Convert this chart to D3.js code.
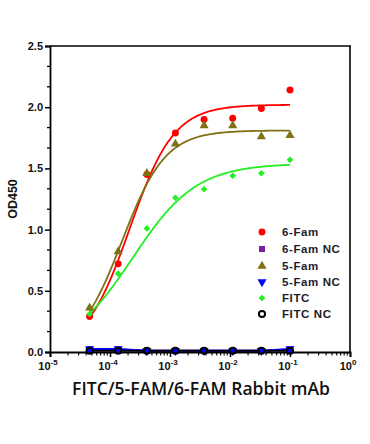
<!DOCTYPE html>
<html><head><meta charset="utf-8">
<script src="https://cdn.jsdelivr.net/npm/d3@7"></script>
<style>html,body{margin:0;padding:0;background:#fff;}svg{display:block;}</style>
</head><body>
<script>
const conc = [0.0000457, 0.000137, 0.000412, 0.00123, 0.0037, 0.0111, 0.0333, 0.1];
const seriesNames = ["6-Fam", "6-Fam NC", "5-Fam", "5-Fam NC", "FITC", "FITC NC"];
const fam6 = [0.29, 0.72, 1.45, 1.79, 1.90, 1.91, 1.99, 2.14];
const fam6NC = [0.02, 0.02, 0.01, 0.01, 0.01, 0.01, 0.01, 0.02];
const fam5 = [0.36, 0.82, 1.46, 1.70, 1.85, 1.85, 1.76, 1.77];
const fam5NC = [0.025, 0.025, 0.01, 0.01, 0.01, 0.01, 0.01, 0.025];
const fitc = [0.31, 0.64, 1.01, 1.26, 1.33, 1.44, 1.46, 1.57];
const fitcNC = [0.01, 0.01, 0.01, 0.01, 0.01, 0.01, 0.01, 0.01];
// 4PL fit parameters [bottom, top, logEC50, hill]
const fit6 = [0, 2.02, -3.67, 1.18];
const fit5 = [0, 1.81, -3.80, 1.2];
const fitF = [0, 1.54, -3.62, 0.82];
const yTicks = [0, 0.5, 1.0, 1.5, 2.0, 2.5];
const xTickExp = [-5, -4, -3, -2, -1, 0];

const W = 370, H = 444;
const svg = d3.select("body").append("svg").attr("width", W).attr("height", H);
const x = d3.scaleLog().domain([1e-5, 1]).range([50, 350]);
const y = d3.scaleLinear().domain([0, 2.5]).range([352, 46]);

const series = [
  {name: "6-Fam", data: fam6, color: "#ff0000", shape: d3.symbolCircle, size: 38, fit: fit6},
  {name: "6-Fam NC", data: fam6NC, color: "#7a1fa2", shape: d3.symbolSquare, size: 36, line: true},
  {name: "5-Fam", data: fam5, color: "#7f7215", shape: d3.symbolTriangle, size: 36, fit: fit5},
  {name: "5-Fam NC", data: fam5NC, color: "#0000ff", shape: d3.symbolTriangle, size: 36, rot: 180, line: true},
  {name: "FITC", data: fitc, color: "#22ee22", shape: d3.symbolSquare, size: 22, rot: 45, fit: fitF},
  {name: "FITC NC", data: fitcNC, color: "#000000", shape: d3.symbolCircle, size: 30, open: true, line: true}
];

const g = svg.append("g");
const fontAxis = "Liberation Sans, Arial, sans-serif";
g.append("line").attr("x1", 50).attr("x2", 351).attr("y1", 46).attr("y2", 46).attr("stroke", "#000").attr("stroke-width", 1.6);
g.append("line").attr("x1", 350).attr("x2", 350).attr("y1", 46).attr("y2", 353).attr("stroke", "#000").attr("stroke-width", 1.6);

const yAxis = d3.axisLeft(y).tickValues(yTicks).tickFormat(d3.format(".1f")).tickSize(5).tickPadding(2);
const ya = g.append("g").attr("transform", "translate(50,0)").call(yAxis);
ya.select(".domain").attr("stroke-width", 1.8);
ya.selectAll(".tick line").attr("stroke-width", 1.5);
ya.selectAll("text").attr("font-family", fontAxis).attr("font-weight", "bold").attr("font-size", 11).attr("fill", "#111");
const yMinor = d3.range(0, 2.5001, 0.5 / 3).filter(v => Math.abs(Math.round(v * 2) - v * 2) > 0.01);
g.selectAll(".ymin").data(yMinor).join("line")
  .attr("x1", 47).attr("x2", 50).attr("y1", d => y(d)).attr("y2", d => y(d)).attr("stroke", "#000").attr("stroke-width", 1.3);

const xAxis = d3.axisBottom(x).tickValues(xTickExp.map(e => Math.pow(10, e))).tickFormat("").tickSize(5);
const xa = g.append("g").attr("transform", "translate(0,352)").call(xAxis);
xa.select(".domain").attr("stroke-width", 1.8);
xa.selectAll(".tick line").attr("stroke-width", 1.5);
const xMinor = [];
for (let e = -5; e < 0; e++) for (let k = 2; k <= 9; k++) xMinor.push(k * Math.pow(10, e));
g.selectAll(".xmin").data(xMinor).join("line")
  .attr("x1", d => x(d)).attr("x2", d => x(d)).attr("y1", 352).attr("y2", 355.5).attr("stroke", "#000").attr("stroke-width", 1.1);
const xl = g.selectAll(".xlab").data(xTickExp).join("text")
  .attr("x", d => x(Math.pow(10, d)) - 2).attr("y", 370).attr("text-anchor", "middle")
  .attr("font-family", fontAxis).attr("font-weight", "bold").attr("font-size", 11).attr("fill", "#111");
xl.append("tspan").text("10");
xl.append("tspan").attr("dy", -5).attr("font-size", 8).text(d => String(d));

svg.append("text").attr("transform", "translate(17,199) rotate(-90)").attr("text-anchor", "middle")
  .attr("font-family", fontAxis).attr("font-weight", "bold").attr("font-size", 12.5).attr("fill", "#111").text("OD450");
svg.append("text").attr("x", 201).attr("y", 395).attr("text-anchor", "middle")
  .attr("font-family", "Open Sans, sans-serif").attr("font-weight", 600).attr("font-size", 17.5).attr("fill", "#111")
  .text("FITC/5-FAM/6-FAM Rabbit mAb");

const fourPL = (p, c) => p[0] + (p[1] - p[0]) / (1 + Math.pow(10, (p[2] - Math.log10(c)) * p[3]));
const curveX = d3.range(0, 201).map(i => Math.pow(10, Math.log10(conc[0]) + i / 200 * (Math.log10(conc[7]) - Math.log10(conc[0]))));
const lineGen = d3.line().x(d => x(d[0])).y(d => y(d[1]));

series.filter(s => s.line).forEach(s => {
  svg.append("path").attr("d", lineGen(conc.map((c, i) => [c, s.data[i]])))
    .attr("fill", "none").attr("stroke", s.color).attr("stroke-width", 2);
});
series.filter(s => s.fit).forEach(s => {
  svg.append("path").attr("d", lineGen(curveX.map(c => [c, fourPL(s.fit, c)])))
    .attr("fill", "none").attr("stroke", s.color).attr("stroke-width", 1.8);
});

series.forEach(s => {
  const sym = d3.symbol().type(s.shape).size(s.size);
  svg.append("g").selectAll("path").data(conc.map((c, i) => [c, s.data[i]])).join("path")
    .attr("d", sym)
    .attr("transform", d => `translate(${x(d[0])},${y(d[1])})` + (s.rot ? ` rotate(${s.rot})` : ""))
    .attr("fill", s.open ? "none" : s.color)
    .attr("stroke", s.open ? s.color : "none")
    .attr("stroke-width", s.open ? 2 : 0);
});

const leg = svg.append("g");
const legY = [232, 249, 266, 282, 298, 314];
series.forEach((s, i) => {
  const sym = d3.symbol().type(s.shape).size(s.size);
  leg.append("path").attr("d", sym)
    .attr("transform", `translate(262,${legY[i]})` + (s.rot ? ` rotate(${s.rot})` : ""))
    .attr("fill", s.open ? "none" : s.color)
    .attr("stroke", s.open ? s.color : "none").attr("stroke-width", s.open ? 2 : 0);
  leg.append("text").attr("x", 282).attr("y", legY[i] + 4)
    .attr("font-family", fontAxis).attr("font-weight", "bold").attr("font-size", 11.5)
    .attr("letter-spacing", 0.6).attr("fill", "#1c1c2a").text(s.name);
});
</script>
</body></html>
